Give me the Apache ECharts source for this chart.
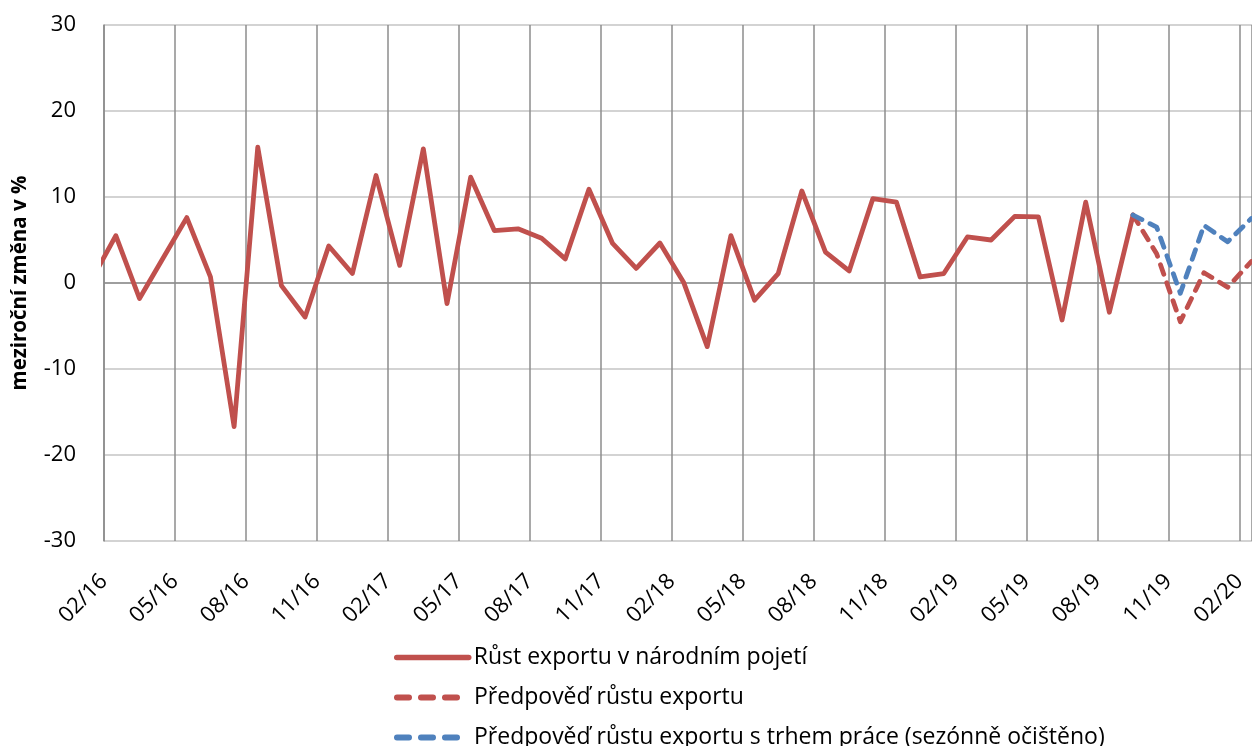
<!DOCTYPE html>
<html>
<head>
<meta charset="utf-8">
<script src="https://cdn.jsdelivr.net/npm/echarts@6/dist/echarts.min.js"></script>
<style>
  html, body { margin: 0; padding: 0; background: #fff; }
  #chart { width: 1252px; height: 746px; }
</style>
</head>
<body>
<div id="chart"></div>
<script>
// tick labels every 3 months, first tick = 02/16
const tickLabels = ['02/16', '05/16', '08/16', '11/16', '02/17', '05/17', '08/17', '11/17',
  '02/18', '05/18', '08/18', '11/18', '02/19', '05/19', '08/19', '11/19', '02/20'];

// monthly values, first one is 01/16 (month index -1, clipped by the axis)
const exportGrowth = [0.5, 5.5, -1.8, 2.9, 7.6, 0.7, -16.7, 15.8, -0.3, -3.95, 4.3, 1.1,
  12.5, 2.05, 15.6, -2.4, 12.3, 6.1, 6.3, 5.2, 2.8, 10.9, 4.6, 1.7,
  4.65, 0.1, -7.4, 5.5, -2.0, 1.1, 10.7, 3.6, 1.4, 9.8, 9.4, 0.7,
  1.1, 5.35, 5.0, 7.75, 7.7, -4.3, 9.4, -3.4, 7.9];
const exportStart = -1;

// forecasts from 09/19 to 02/20
const forecast = [7.9, 3.4, -4.5, 1.2, -0.5, 2.5];
const forecastLabour = [7.9, 6.5, -1.2, 6.7, 4.8, 7.5];
const forecastStart = 43;

const seriesNames = ['Růst exportu v národním pojetí', 'Předpověď růstu exportu',
  'Předpověď růstu exportu s trhem práce (sezónně očištěno)'];

const red = '#C0504D';
const blue = '#4F81BD';

// point sits in the middle of its month
function toPoints (values, start) {
  return values.map((v, i) => [start + i + 0.5, v]);
}

const chart = echarts.init(document.getElementById('chart'));
const font = '"Open Sans", "Noto Sans", sans-serif';

// one legend per row so the vertical list never wraps into columns
function legendRow (name, top, dashed) {
  return {
    data: [{
      name: name,
      lineStyle: dashed ? { width: 6, type: [12, 12], cap: 'round' } : { width: 5.5, type: 'solid' }
    }],
    left: 389,
    top: top,
    itemWidth: 72,
    itemHeight: 14,
    itemStyle: { opacity: 0 },
    textStyle: { fontSize: 23, color: '#000', lineHeight: 22, fontFamily: font }
  };
}

chart.setOption({
  animation: false,
  textStyle: { fontFamily: font },
  grid: { left: 104, top: 25, right: 0, bottom: 205, outerBoundsMode: 'none', containLabel: false },
  legend: [
    legendRow(seriesNames[0], 641, false),
    legendRow(seriesNames[1], 681, true),
    legendRow(seriesNames[2], 721, true)
  ],
  xAxis: {
    type: 'value',
    min: 0,
    max: 48.53,
    interval: 3,
    axisLine: { show: false },
    axisTick: { show: false },
    splitLine: { show: true, lineStyle: { color: '#8c8c8c', width: 1.5 } },
    axisLabel: {
      rotate: 45,
      margin: 37,
      fontSize: 22,
      color: '#000',
      showMaxLabel: false,
      formatter: v => tickLabels[Math.round(v / 3)] || ''
    }
  },
  yAxis: {
    type: 'value',
    min: -30,
    max: 30,
    interval: 10,
    name: 'meziroční změna v %',
    nameLocation: 'middle',
    nameRotate: 90,
    nameGap: 73,
    nameTextStyle: { fontSize: 20.5, fontWeight: 'bold', color: '#000', fontFamily: font },
    axisLine: { show: true, lineStyle: { color: '#8c8c8c', width: 1.5 } },
    axisTick: { show: false },
    axisLabel: { fontSize: 22, color: '#000', margin: 28 },
    splitLine: { lineStyle: { color: '#c4c4c4', width: 1.5 } }
  },
  series: [
    {
      name: seriesNames[0],
      type: 'line',
      symbol: 'none',
      data: toPoints(exportGrowth, exportStart),
      lineStyle: { color: red, width: 4.8, cap: 'round', join: 'round' },
      itemStyle: { color: red },
      markLine: {
        silent: true,
        z: 1,
        symbol: 'none',
        label: { show: false },
        lineStyle: { color: '#8c8c8c', width: 1.5, type: 'solid' },
        data: [{ yAxis: 0 }]
      }
    },
    {
      name: seriesNames[1],
      type: 'line',
      symbol: 'none',
      data: toPoints(forecast, forecastStart),
      lineStyle: { color: red, width: 4.8, type: [10, 9], cap: 'round', join: 'round' },
      itemStyle: { color: red }
    },
    {
      name: seriesNames[2],
      type: 'line',
      symbol: 'none',
      data: toPoints(forecastLabour, forecastStart),
      lineStyle: { color: blue, width: 4.8, type: [10, 9], cap: 'round', join: 'round' },
      itemStyle: { color: blue }
    }
  ]
});

window.addEventListener('resize', () => {
  chart.resize();
});
</script>
</body>
</html>
